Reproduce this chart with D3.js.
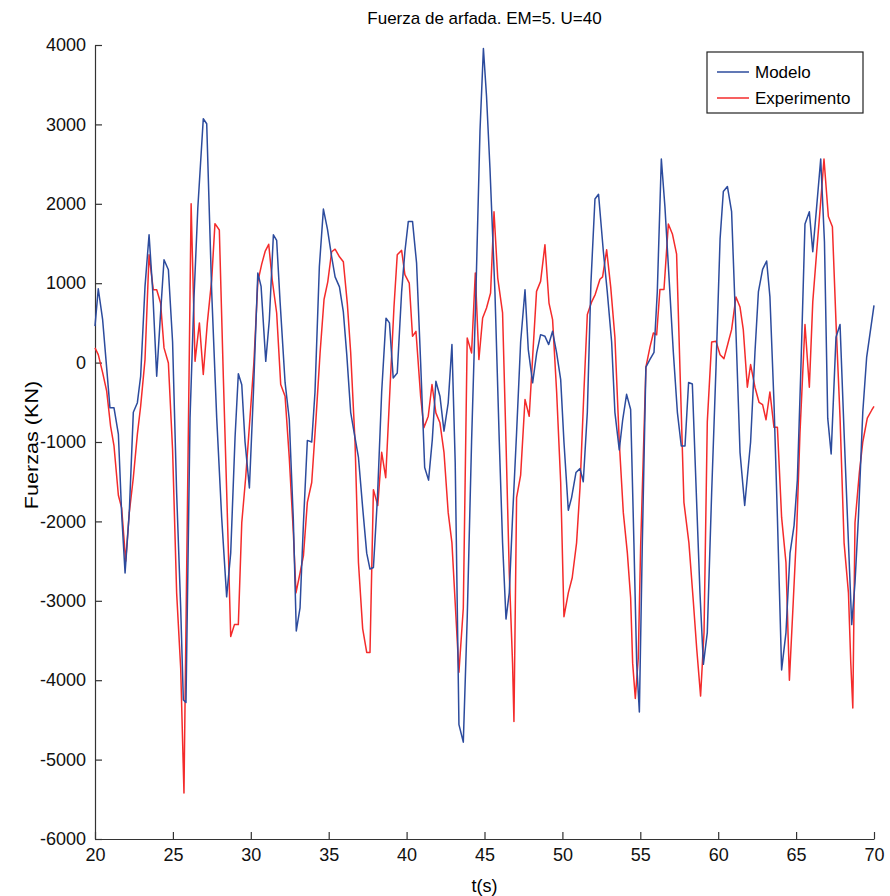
<!DOCTYPE html>
<html lang="es">
<head>
<meta charset="UTF-8">
<title>Fuerza de arfada. EM=5. U=40</title>
<script src="https://d3js.org/d3.v7.min.js"></script>
<style>
  body { margin: 0; background: #fff; }
  svg { font-family: "Liberation Sans", Arial, sans-serif; }
  .axis path, .axis line { stroke: #333; stroke-width: 1.2px; }
  .axis text { font-size: 18px; fill: #111; }
  .line { fill: none; stroke-width: 1.5px; stroke-linejoin: round; }
</style>
</head>
<body>
<div id="chart"></div>
<script>
// tiempo (s), fuerza (KN)
const modeloT = [20.00,20.21,20.49,20.75,20.96,21.22,21.50,21.71,21.93,22.20,22.46,22.72,22.93,23.21,23.47,23.70,23.96,24.21,24.43,24.71,24.98,25.24,25.50,25.67,25.84,26.10,26.35,26.60,26.95,27.17,27.49,27.81,28.13,28.45,28.71,28.99,29.20,29.42,29.63,29.91,30.17,30.45,30.66,30.96,31.19,31.45,31.66,31.88,32.20,32.47,32.73,32.92,33.16,33.38,33.63,33.91,34.12,34.40,34.66,34.92,35.19,35.41,35.69,35.94,36.16,36.41,36.63,36.91,37.18,37.44,37.65,37.87,38.13,38.40,38.68,38.90,39.14,39.40,39.68,39.89,40.11,40.38,40.64,40.90,41.16,41.41,41.65,41.88,42.14,42.40,42.67,42.91,43.12,43.36,43.64,43.89,44.17,44.45,44.71,44.93,45.13,45.35,45.67,45.95,46.16,46.38,46.59,46.80,47.06,47.32,47.60,47.81,48.09,48.35,48.60,48.88,49.12,49.37,49.63,49.89,50.10,50.38,50.59,50.87,51.13,51.34,51.60,51.83,52.09,52.32,52.63,52.88,53.16,53.37,53.65,53.87,54.12,54.38,54.59,54.77,54.94,55.13,55.36,55.62,55.88,56.09,56.35,56.58,56.86,57.12,57.38,57.63,57.87,58.10,58.34,58.57,58.83,59.05,59.30,59.58,59.86,60.12,60.33,60.59,60.86,61.14,61.40,61.70,62.08,62.36,62.58,62.85,63.11,63.32,63.58,63.80,64.07,64.35,64.61,64.87,65.08,65.30,65.57,65.85,66.07,66.32,66.58,66.82,67.03,67.25,67.56,67.82,68.08,68.36,68.57,68.78,69.00,69.28,69.53,70.00];
const modeloF = [460,930,540,-70,-570,-570,-900,-1900,-2650,-1890,-625,-505,-172,960,1610,918,-172,625,1295,1170,260,-1640,-3090,-4250,-4280,-700,800,1950,3071,3008,890,-690,-1950,-2950,-2400,-940,-140,-280,-1000,-1580,-370,1128,960,16,540,1610,1540,765,-250,-717,-1980,-3380,-3090,-2017,-980,-1000,-370,1207,1933,1680,1333,1080,954,638,100,-626,-880,-1195,-1827,-2400,-2600,-2580,-1700,-370,560,500,-193,-130,890,1396,1778,1778,1254,5,-1320,-1480,-970,-235,-423,-863,-507,227,-1260,-4560,-4780,-3220,-1000,890,2913,3956,3355,2450,890,-1000,-2270,-3230,-2900,-1950,-880,260,918,164,-255,122,352,331,227,394,122,-214,-1000,-1860,-1700,-1385,-1335,-1500,-626,1000,2060,2120,1396,890,260,-626,-1100,-720,-400,-590,-2270,-3800,-4400,-2270,-57,40,130,890,2565,1965,1017,130,-626,-1050,-1050,-250,-270,-1510,-2900,-3800,-3400,-1640,-57,1555,2155,2218,1900,385,-1130,-1800,-1000,130,890,1175,1280,827,-500,-1950,-3870,-3400,-2400,-2050,-1480,-120,1745,1900,1396,1965,2565,1520,-700,-1150,320,480,-880,-2270,-3300,-2775,-1950,-626,70,720];

const experT = [20.00,20.21,20.49,20.75,21.00,21.22,21.50,21.71,21.97,22.20,22.46,22.72,22.93,23.21,23.47,23.74,23.96,24.21,24.43,24.71,24.98,25.24,25.50,25.71,26.17,26.42,26.70,26.95,27.21,27.49,27.70,27.98,28.24,28.50,28.71,28.95,29.20,29.42,29.67,29.95,30.20,30.45,30.70,30.92,31.15,31.37,31.66,31.92,32.20,32.47,32.73,32.90,33.16,33.38,33.63,33.91,34.19,34.45,34.70,34.94,35.19,35.41,35.69,35.94,36.20,36.41,36.69,36.91,37.18,37.44,37.65,37.87,38.15,38.40,38.66,38.94,39.19,39.40,39.68,39.89,40.17,40.38,40.60,40.90,41.11,41.39,41.63,41.88,42.14,42.40,42.67,42.91,43.12,43.36,43.64,43.89,44.17,44.41,44.64,44.88,45.13,45.39,45.61,45.85,46.16,46.38,46.59,46.80,46.89,47.06,47.32,47.60,47.87,48.09,48.34,48.60,48.88,49.14,49.37,49.63,49.89,50.10,50.38,50.63,50.91,51.13,51.38,51.60,51.88,52.11,52.41,52.58,52.84,53.10,53.37,53.65,53.91,54.17,54.38,54.51,54.68,54.87,55.02,55.19,55.36,55.62,55.84,56.05,56.26,56.52,56.80,57.06,57.33,57.59,57.80,58.12,58.40,58.62,58.87,59.09,59.30,59.58,59.86,60.12,60.37,60.65,60.86,61.14,61.40,61.61,61.87,62.08,62.36,62.62,62.85,63.07,63.32,63.58,63.80,64.07,64.35,64.57,64.82,65.04,65.25,65.57,65.85,66.07,66.32,66.58,66.79,67.07,67.33,67.56,67.82,68.08,68.36,68.51,68.64,68.78,69.06,69.28,69.57,69.85,70.00];
const experF = [185,100,-126,-360,-800,-1050,-1670,-1830,-2500,-1890,-1450,-900,-550,38,1358,918,918,750,185,-4,-1100,-2900,-3850,-5420,2000,16,500,-150,500,1045,1750,1670,-200,-1950,-3450,-3300,-3300,-2017,-1450,-690,5,1017,1240,1400,1490,1050,625,-277,-424,-1200,-2140,-2900,-2650,-2430,-1760,-1510,-690,130,795,1017,1396,1428,1333,1270,733,130,-1000,-2520,-3350,-3650,-3650,-1600,-1800,-1130,-1450,-300,700,1359,1413,1107,1002,331,394,-423,-821,-675,-276,-633,-758,-1130,-1890,-2270,-3030,-3900,-3090,310,122,1128,38,562,688,876,1900,1065,625,-1000,-2650,-3785,-4520,-1700,-1416,-465,-675,70,897,1023,1485,750,541,-370,-1510,-3200,-2900,-2710,-2270,-1575,-370,606,765,860,1050,1080,1420,954,320,-1000,-1890,-2400,-2965,-3785,-4230,-3720,-2330,-1195,-57,195,373,350,920,920,1745,1620,1365,-370,-1760,-2270,-3000,-3600,-4200,-3400,-750,260,270,100,50,260,415,827,700,415,-310,-25,-310,-500,-530,-720,-370,-815,-815,-1950,-2520,-4000,-3000,-2100,-880,480,-310,765,1396,2028,2565,1840,1710,510,-690,-2270,-2900,-3785,-4350,-2017,-1385,-1000,-700,-600,-550];

const xTicks = [20, 25, 30, 35, 40, 45, 50, 55, 60, 65, 70];
const yTicks = [-6000, -5000, -4000, -3000, -2000, -1000, 0, 1000, 2000, 3000, 4000];
const seriesNames = ["Modelo", "Experimento"];
const seriesColors = ["#2c4b9d", "#f42b2b"];

const W = 890, H = 896;
const plot = { left: 95, right: 874, top: 45, bottom: 839 };

const svg = d3.select("#chart").append("svg")
    .attr("width", W)
    .attr("height", H);

const x = d3.scaleLinear().domain([20, 70]).range([plot.left, plot.right]);
const y = d3.scaleLinear().domain([-6000, 4000]).range([plot.bottom, plot.top]);

// guion normal, no el signo menos unicode
const fmt = d => String(d);

// ejes (ticks hacia dentro, sin caja)
svg.append("g")
    .attr("class", "axis")
    .attr("transform", `translate(0,${plot.bottom})`)
    .call(d3.axisBottom(x).tickValues(xTicks).tickFormat(fmt)
        .tickSizeInner(-7).tickSizeOuter(0).tickPadding(9));

svg.append("g")
    .attr("class", "axis")
    .attr("transform", `translate(${plot.left},0)`)
    .call(d3.axisLeft(y).tickValues(yTicks).tickFormat(fmt)
        .tickSizeInner(-7).tickSizeOuter(0).tickPadding(9));

const line = d3.line()
    .x(d => x(d[0]))
    .y(d => y(d[1]));

const series = [
    d3.zip(modeloT, modeloF),
    d3.zip(experT, experF)
];

// experimento debajo, modelo encima
[1, 0].forEach(i => {
    svg.append("path")
        .datum(series[i])
        .attr("class", "line")
        .attr("stroke", seriesColors[i])
        .attr("d", line);
});

// título y etiquetas
svg.append("text")
    .attr("x", (plot.left + plot.right) / 2)
    .attr("y", 24)
    .attr("text-anchor", "middle")
    .style("font-size", "17px")
    .text("Fuerza de arfada. EM=5. U=40");

svg.append("text")
    .attr("x", (plot.left + plot.right) / 2)
    .attr("y", 892)
    .attr("text-anchor", "middle")
    .style("font-size", "18px")
    .text("t(s)");

svg.append("text")
    .attr("transform", `translate(38,${(plot.top + plot.bottom) / 2 + 3}) rotate(-90) scale(1.2,1)`)
    .attr("text-anchor", "middle")
    .style("font-size", "18px")
    .text("Fuerzas (KN)");

// leyenda
const legend = svg.append("g").attr("transform", "translate(707,52)");
legend.append("rect")
    .attr("width", 156)
    .attr("height", 61)
    .attr("fill", "#fff")
    .attr("stroke", "#222")
    .attr("stroke-width", 1.2);

seriesNames.forEach((name, i) => {
    const ly = 20 + i * 26;
    legend.append("line")
        .attr("x1", 10).attr("x2", 42)
        .attr("y1", ly).attr("y2", ly)
        .attr("stroke", seriesColors[i])
        .attr("stroke-width", 1.5);
    legend.append("text")
        .attr("x", 48)
        .attr("y", ly + 6)
        .style("font-size", "17px")
        .text(name);
});
</script>
</body>
</html>
